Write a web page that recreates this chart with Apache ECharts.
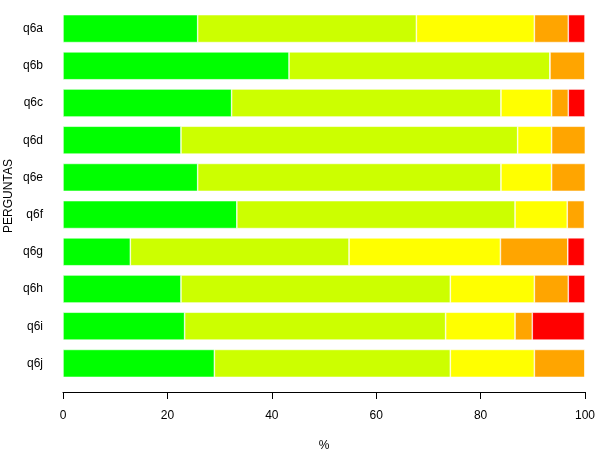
<!DOCTYPE html>
<html>
<head>
<meta charset="utf-8">
<script src="https://cdn.jsdelivr.net/npm/echarts@6/dist/echarts.min.js"></script>
<style>html,body{margin:0;padding:0;background:#fff;}#c{width:600px;height:450px;}</style>
</head>
<body>
<div id="c"></div>
<script>
var categories = ['q6a','q6b','q6c','q6d','q6e','q6f','q6g','q6h','q6i','q6j'];
var xTicks = [0, 20, 40, 60, 80, 100];
var level1 = [25.8, 43.3, 32.3, 22.6, 25.8, 33.3, 12.9, 22.6, 23.3, 29.0];
var level2 = [41.9, 50.0, 51.6, 64.5, 58.1, 53.3, 41.9, 51.6, 50.0, 45.2];
var level3 = [22.6, 0.0, 9.7, 6.5, 9.7, 10.0, 29.0, 16.1, 13.3, 16.1];
var level4 = [6.5, 6.7, 3.2, 6.5, 6.5, 3.3, 12.9, 6.5, 3.3, 9.7];
var level5 = [3.2, 0.0, 3.2, 0.0, 0.0, 0.0, 3.2, 3.2, 10.0, 0.0];
var seriesNames = ['1','2','3','4','5'];
var colors = ['#00FF00','#CCFF00','#FFFF00','#FFA500','#FF0000'];
var levels = [level1, level2, level3, level4, level5];

var chart = echarts.init(document.getElementById('c'), null, {renderer:'canvas'});
var font = 'Liberation Sans, Arial, sans-serif';
chart.setOption({
  animation: false,
  backgroundColor: '#fff',
  grid: {left: 63, right: 15, top: 10, bottom: 68, containLabel: false, outerBoundsMode: 'none'},
  xAxis: {
    type: 'value', min: 0, max: 100, interval: 20,
    offset: 10,
    name: '%', nameLocation: 'middle', nameGap: 48,
    nameTextStyle: {color: '#000', fontSize: 12, fontFamily: font},
    axisLine: {show: true, lineStyle: {color: '#000', width: 1}},
    axisTick: {show: true, length: 7, lineStyle: {color: '#000'}},
    axisLabel: {color: '#000', fontSize: 12, fontFamily: font, margin: 18,
      formatter: function (v) { return xTicks.indexOf(v) >= 0 ? String(v) : ''; }},
    splitLine: {show: false}
  },
  yAxis: {
    type: 'category', data: categories, inverse: true,
    name: 'PERGUNTAS', nameLocation: 'middle', nameGap: 48, nameRotate: 90,
    nameMoveOverlap: false,
    nameTextStyle: {color: '#000', fontSize: 12, fontFamily: font},
    axisLine: {show: false}, axisTick: {show: false},
    axisLabel: {color: '#000', fontSize: 12, fontFamily: font, margin: 20}
  },
  series: levels.map(function (d, i) {
    return {
      name: seriesNames[i], type: 'bar', stack: 'total', data: d,
      barCategoryGap: '25%',
      itemStyle: {color: colors[i], borderColor: '#fff', borderWidth: 0.6},
      emphasis: {disabled: true}
    };
  })
});
</script>
</body>
</html>
